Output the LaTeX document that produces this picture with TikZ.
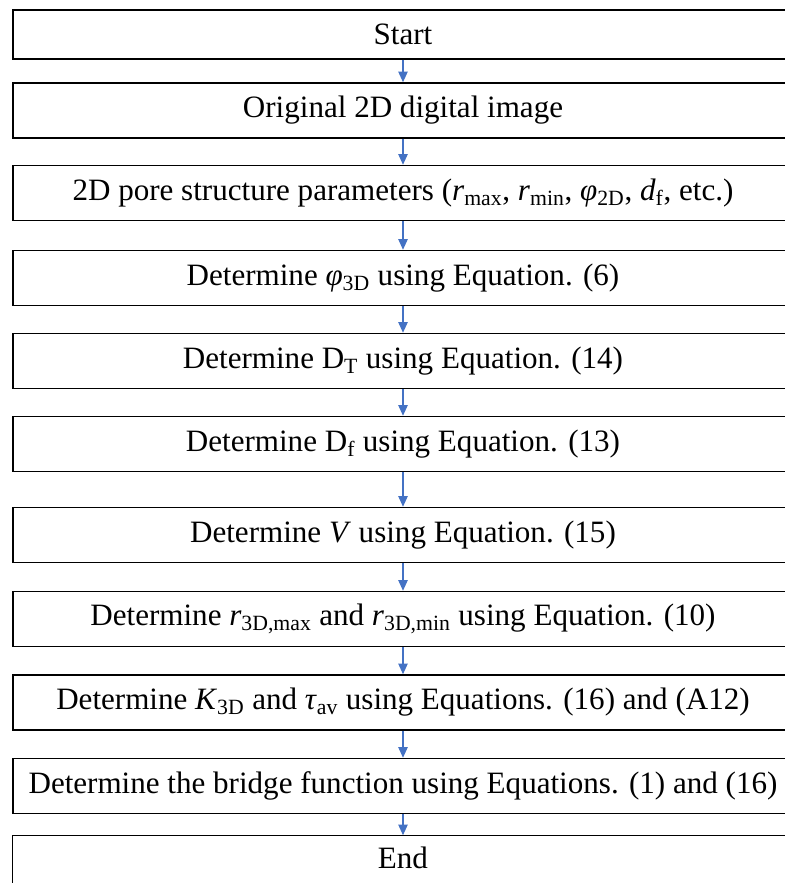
\documentclass[tikz,border=0pt]{standalone}
\usepackage{fontspec}
\setmainfont{Liberation Serif}
\usetikzlibrary{arrows.meta}
\definecolor{flowblue}{HTML}{4472C4}
\begin{document}
\begin{tikzpicture}[x=0.75pt,y=-0.75pt,
  stage/.style={draw=black, line width=1.1pt, minimum width=585pt,
    minimum height=41.25pt, inner sep=0pt, anchor=center,
    font=\fontsize{23.3}{28}\selectfont},
  flow/.style={draw=flowblue, line width=1pt,
    -{Triangle[length=8pt,width=7pt]}}]
\useasboundingbox (0,0) rectangle (785,883);
\node[stage, minimum height=36.75pt] (s1) at (403,34.5) {Start};
\node[stage] (s2) at (403,110.5) {Original 2D digital image};
\node[stage] (s3) at (403,193) {2D pore structure parameters (\textit{r}\textsubscript{max}, \textit{r}\textsubscript{min}, \textit{φ}\textsubscript{2D}, \textit{d}\textsubscript{f}, etc.)};
\node[stage] (s4) at (403,278) {Determine \textit{φ}\textsubscript{3D} using Equation. (6)};
\node[stage] (s5) at (403,361) {Determine D\textsubscript{T} using Equation. (14)};
\node[stage] (s6) at (403,444) {Determine D\textsubscript{f} using Equation. (13)};
\node[stage] (s7) at (403,535) {Determine \textit{V} using Equation. (15)};
\node[stage] (s8) at (403,619) {Determine \textit{r}\textsubscript{3D,max} and \textit{r}\textsubscript{3D,min} using Equation. (10)};
\node[stage] (s9) at (403,702.5) {Determine \textit{K}\textsubscript{3D} and \textit{τ}\textsubscript{av} using Equations. (16) and (A12)};
\node[stage] (s10) at (403,786) {Determine the bridge function using Equations. (1) and (16)};
% last box runs past the lower edge of the page
\node[stage, draw=none, minimum height=33pt] (s11) at (403,858) {End};
\draw[line width=1.1pt] ([yshift=-20pt]s11.south west) -- (s11.north west)
  -- (s11.north east) -- ([yshift=-20pt]s11.south east);
\foreach \a/\b in {s1/s2,s2/s3,s3/s4,s4/s5,s5/s6,s6/s7,s7/s8,s8/s9,s9/s10,s10/s11}
  \draw[flow] (\a) -- (\b);
\end{tikzpicture}
\end{document}
